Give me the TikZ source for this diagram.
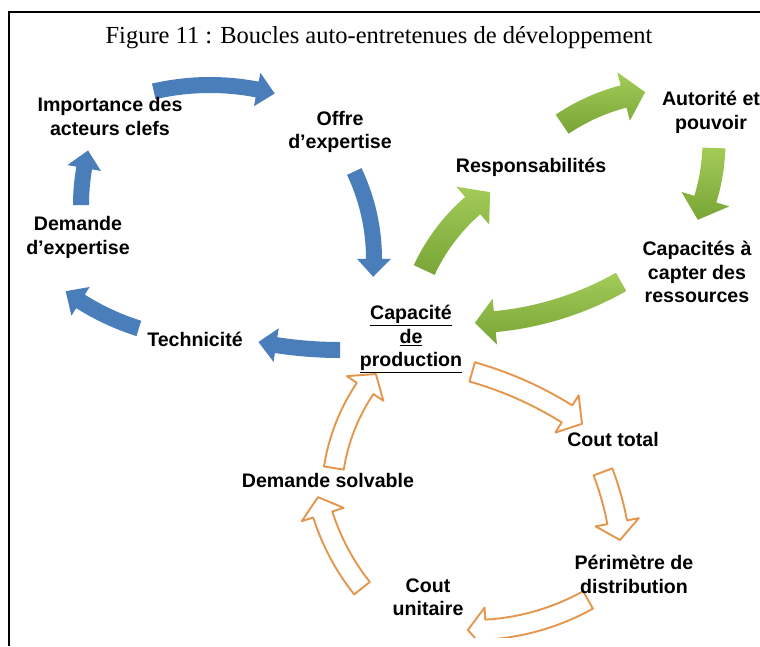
\documentclass[tikz,border=0pt]{standalone}
\usepackage{fontspec}
\setmainfont{Liberation Serif}
\setsansfont{Liberation Sans}
\definecolor{bluA}{HTML}{4A7EBB}
\definecolor{grnL}{HTML}{A3CB58}
\definecolor{grnD}{HTML}{78A536}
\definecolor{orgA}{HTML}{E5964D}
% #1 style, #2 cx, #3 cy, #4 radius, #5 tail angle, #6 tip angle, #7 body width, #8 head width, #9 head length
\newcommand{\blockarrow}[9]{%
  \pgfmathsetmacro\bsgn{(#6>#5)?1:-1}%
  \pgfmathsetmacro\bend{#6-(\bsgn)*(#9)/(#4)*180/pi}%
  \pgfmathsetmacro\bro{#4+(#7)/2}%
  \pgfmathsetmacro\bri{#4-(#7)/2}%
  \pgfmathsetmacro\bho{#4+(#8)/2}%
  \pgfmathsetmacro\bhi{#4-(#8)/2}%
  \path[#1,shift={(#2,#3)}] (#5:\bro pt) arc[start angle=#5,end angle=\bend,radius=\bro pt]
    -- (\bend:\bho pt) -- (#6:#4pt) -- (\bend:\bhi pt) -- (\bend:\bri pt)
    arc[start angle=\bend,end angle=#5,radius=\bri pt] -- cycle;%
}
\begin{document}
\begin{tikzpicture}[x=1pt,y=-1pt,
  bluearrow/.style={fill=bluA},
  greenarrow/.style={top color=grnL,bottom color=grnD},
  orangearrow/.style={draw=orgA,fill=white,line width=1.9pt,line join=round},
  lab/.style={font=\sffamily\bfseries\fontsize{19.6}{23.5}\selectfont,align=center,inner sep=0pt},
  frameline/.style={line width=2pt,black}]
\useasboundingbox (0,0) rectangle (760,646);
\fill[white] (0,0) rectangle (760,646);
\draw[frameline] (9,646) -- (9,12) -- (761,12);
\node[font=\fontsize{24.5}{28}\selectfont,anchor=base] (title) at (379,43) {Figure 11 : Boucles auto-entretenues de développement};
% blue loop
\blockarrow{bluearrow}{210}{335}{250}{103}{75}{16}{34}{18}
\blockarrow{bluearrow}{170}{259}{204}{25.4}{-5}{16}{34}{18}
\blockarrow{bluearrow}{340}{-70}{420}{-90}{-101.2}{16}{34}{18}
\blockarrow{bluearrow}{214}{90}{250}{-107.5}{-126.4}{16}{34}{18}
\blockarrow{bluearrow}{296}{205}{215}{180}{165.3}{16}{34}{18}
% green loop
\blockarrow{greenarrow}{600}{352}{194}{155}{124.5}{23}{50}{22}
\blockarrow{greenarrow}{674}{290}{200}{124}{98.3}{23}{50}{22}
\blockarrow{greenarrow}{514}{141}{200}{-2}{-23.2}{23}{50}{22}
\blockarrow{greenarrow}{465.5}{8}{315}{-60.4}{-88.3}{21}{46}{20}
% orange loop
\begin{scope}
\clip (0,0) rectangle (760,637);
\blockarrow{orangearrow}{372}{726}{368}{74.2}{55.2}{20}{44}{18}
\blockarrow{orangearrow}{322.5}{578.4}{300}{20.8}{7.35}{20}{44}{18}
\blockarrow{orangearrow}{472.4}{393}{237}{-60.8}{-91.1}{20}{44}{18}
\blockarrow{orangearrow}{542}{445}{230}{-141.5}{-166.9}{20}{44}{18}
\blockarrow{orangearrow}{528.5}{498.5}{197}{171.1}{140.8}{20}{44}{18}
\end{scope}
% labels
\node[lab] (imp) at (110,116.5) {Importance des\\acteurs clefs};
\node[lab] (off) at (340,132) {Offre\\d’expertise};
\node[lab] (dem) at (78,237.5) {Demande\\d’expertise};
\node[lab] (tec) at (195,339) {Technicité};
\node[lab] (cap) at (411,339) {\underline{Capacité}\\\underline{de}\\\underline{production}};
\node[lab] (res) at (531,167) {Responsabilités};
\node[lab] (aut) at (711,112.5) {Autorité et\\pouvoir};
\node[lab] (cpt) at (697,272) {Capacités à\\capter des\\ressources};
\node[lab] (ctot) at (613,439) {Cout total};
\node[lab] (dsol) at (328,480) {Demande solvable};
\node[lab] (per) at (634,574.5) {Périmètre de\\distribution};
\node[lab] (cun) at (428,597) {Cout\\unitaire};
\end{tikzpicture}
\end{document}
